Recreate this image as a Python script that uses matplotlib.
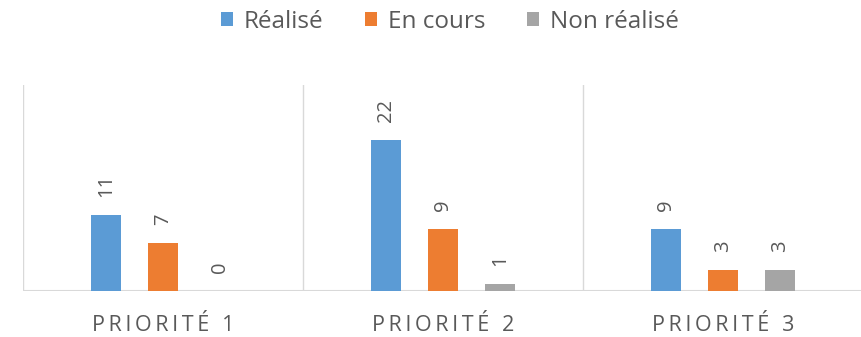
import matplotlib
matplotlib.use("Agg")
import matplotlib.pyplot as plt
import numpy as np

plt.rcParams['font.family'] = ['Open Sans', 'DejaVu Sans']

categories = ["PRIORITÉ 1", "PRIORITÉ 2", "PRIORITÉ 3"]
series_names = ["Réalisé", "En cours", "Non réalisé"]
realise = [11, 22, 9]
en_cours = [7, 9, 3]
non_realise = [0, 1, 3]
colors = ["#5B9BD5", "#ED7D31", "#A5A5A5"]

text_color = "#595959"
grid_color = "#D9D9D9"

fig = plt.figure(figsize=(8.62, 3.37), dpi=100)
ax = fig.add_axes([0.0267, 0.1365, 0.9745, 0.6113])

x = np.arange(len(categories))
step = 0.2036
width = 0.107
handles = []
for i, (vals, name, col) in enumerate(zip([realise, en_cours, non_realise], series_names, colors)):
    pos = x + (i - 1) * step
    bars = ax.bar(pos, vals, width=width, color=col, label=name, zorder=3)
    handles.append(bars)
    for xp, v in zip(pos, vals):
        ax.annotate(str(v), (xp, v), xytext=(0, 13), textcoords="offset points",
                    rotation=90, ha="center", va="bottom", fontsize=14.5,
                    color=text_color)

ax.set_xlim(-0.5, len(categories) - 0.5)
ax.set_ylim(0, 30)

# category separators and baseline
for b in np.arange(-0.5, len(categories) - 0.5, 1.0):
    ax.axvline(b, color=grid_color, lw=1.0, zorder=1)
ax.axhline(0, color=grid_color, lw=1.5, zorder=2)

for s in ax.spines.values():
    s.set_visible(False)
ax.set_yticks([])
ax.set_xticks(x)
spaced = ["\u2009".join(c) for c in categories]
ax.set_xticklabels(spaced, fontsize=15.5, color=text_color)
ax.tick_params(axis="x", length=0, pad=17)

leg = fig.legend(handles, series_names, loc="center", bbox_to_anchor=(0.522, 0.935),
                 ncol=3, frameon=False, fontsize=17.5, handlelength=0.5, handleheight=0.5,
                 handletextpad=0.45, columnspacing=1.7)
for t in leg.get_texts():
    t.set_color(text_color)

fig.savefig("out.png", dpi=100)
